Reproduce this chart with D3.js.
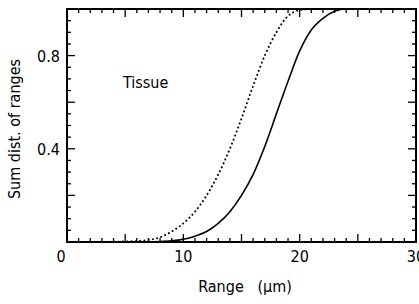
<!DOCTYPE html>
<html>
<head>
<meta charset="utf-8">
<script src="https://cdn.jsdelivr.net/npm/d3@7"></script>
<style>
  body { margin: 0; background: #fff; }
  svg text { font-family: "DejaVu Sans Condensed", "Liberation Sans Narrow", sans-serif; fill: #000; }
</style>
</head>
<body>
<svg id="chart" width="419" height="304"></svg>
<script>
// range (µm) sampled every 1 µm, cumulative distribution of ranges
var RANGE = d3.range(0, 31);
var SOLID = [0, 0, 0, 0, 0, 0, 0.001, 0.001, 0.002, 0.005, 0.012, 0.025, 0.045, 0.08, 0.13, 0.2,
  0.29, 0.41, 0.55, 0.69, 0.82, 0.91, 0.96, 0.99, 1.0, 1.0, 1.0, 1.0, 1.0, 1.0, 1.0];
var DOTTED = [0, 0, 0, 0, 0.001, 0.002, 0.004, 0.009, 0.02, 0.045, 0.08, 0.13, 0.2, 0.29, 0.4, 0.53,
  0.67, 0.8, 0.9, 0.97, 0.995, 1.0, 1.0, 1.0, 1.0, 1.0, 1.0, 1.0, 1.0, 1.0, 1.0];
var X_LABELS = [0, 10, 20, 30];
var Y_LABELS = [0.4, 0.8];

var svg = d3.select('#chart');
var m = { l: 67, r: 416, t: 9, b: 242 };
var x = d3.scaleLinear().domain([0, 30]).range([m.l, m.r]);
var y = d3.scaleLinear().domain([0, 1.0]).range([m.b, m.t]);

var g = svg.append('g');

// curves
var line = d3.line().x(function (d, i) { return x(RANGE[i]); }).y(function (d) { return y(d); }).curve(d3.curveMonotoneX);
g.append('path').datum(DOTTED).attr('d', line).attr('fill', 'none').attr('stroke', '#000')
  .attr('stroke-width', 2).attr('stroke-dasharray', '0.1,4.2').attr('stroke-linecap', 'round');
g.append('path').datum(SOLID).attr('d', line).attr('fill', 'none').attr('stroke', '#000').attr('stroke-width', 1.6);

// inward ticks on all four sides
var xt = d3.range(0, 31), yt = d3.range(0, 21).map(function (i) { return i * 0.05; });
function xLen(v) { return v % 5 === 0 ? 8 : 4; }
function yLen(v) { return Math.round(v * 100) % 20 === 0 ? 8 : 4; }
xt.forEach(function (v) {
  g.append('line').attr('x1', x(v)).attr('x2', x(v)).attr('y1', m.b).attr('y2', m.b - xLen(v)).attr('stroke', '#000').attr('stroke-width', 1.3);
  g.append('line').attr('x1', x(v)).attr('x2', x(v)).attr('y1', m.t).attr('y2', m.t + xLen(v)).attr('stroke', '#000').attr('stroke-width', 1.3);
});
yt.forEach(function (v) {
  g.append('line').attr('x1', m.l).attr('x2', m.l + yLen(v)).attr('y1', y(v)).attr('y2', y(v)).attr('stroke', '#000').attr('stroke-width', 1.3);
  g.append('line').attr('x1', m.r).attr('x2', m.r - yLen(v)).attr('y1', y(v)).attr('y2', y(v)).attr('stroke', '#000').attr('stroke-width', 1.3);
});
g.append('rect').attr('x', m.l).attr('y', m.t).attr('width', m.r - m.l).attr('height', m.b - m.t)
  .attr('fill', 'none').attr('stroke', '#000').attr('stroke-width', 2);

// tick labels
X_LABELS.forEach(function (v) {
  svg.append('text').attr('x', x(v) - (v === 0 ? 6 : 0)).attr('y', 262).attr('text-anchor', 'middle').attr('font-size', 16).text(v);
});
Y_LABELS.forEach(function (v) {
  svg.append('text').attr('x', 60).attr('y', y(v) + 6).attr('text-anchor', 'end').attr('font-size', 16).text(v);
});

// titles
svg.append('text').attr('x', 245).attr('y', 292).attr('text-anchor', 'middle').attr('font-size', 16).attr('xml:space', 'preserve').text('Range   (μm)');
svg.append('text').attr('transform', 'translate(20,129) rotate(-90)').attr('text-anchor', 'middle').attr('font-size', 16).text('Sum dist. of ranges');
svg.append('text').attr('x', 123).attr('y', 88).attr('font-size', 16).text('Tissue');
</script>
</body>
</html>
